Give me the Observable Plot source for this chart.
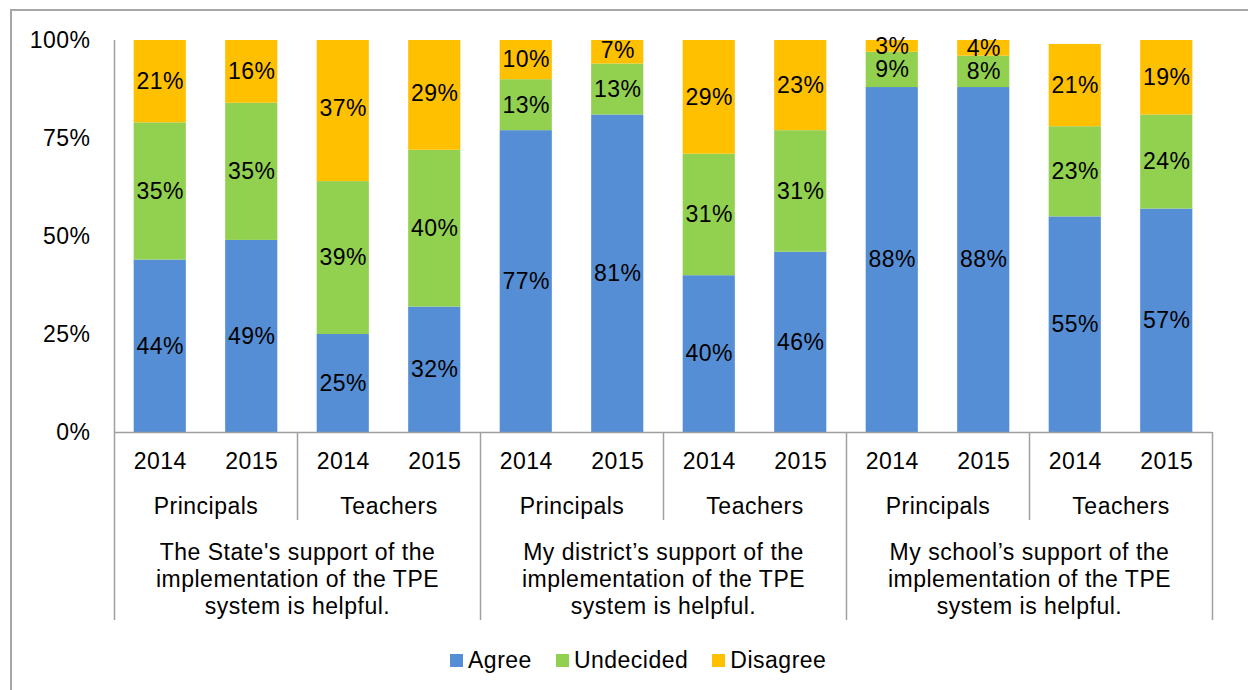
<!DOCTYPE html>
<html>
<head>
<meta charset="utf-8">
<script src="https://cdn.jsdelivr.net/npm/d3@7"></script>
<script src="https://cdn.jsdelivr.net/npm/@observablehq/plot@0.6"></script>
<style>
  html, body { margin: 0; padding: 0; background: #fff; }
  #wrap { position: relative; width: 1248px; height: 690px; overflow: hidden; font-family: "Liberation Sans", Arial, sans-serif; }
  #frame { position: absolute; left: 10px; top: 9px; width: 1400px; height: 900px; border-left: 2px solid #a6a6a6; border-top: 2px solid #a6a6a6; }
  #chart { position: absolute; left: 0; top: 0; }
  #legend { position: absolute; left: 450px; top: 644px; letter-spacing: 0.5px; }
  .lg-swatch { margin-right: 24px !important; }
  .lg-swatch > svg { margin-right: 5px !important; }
</style>
</head>
<body>
<div id="wrap">
  <div id="frame"></div>
  <div id="chart"></div>
  <div id="legend"></div>
</div>
<script>
const questions = [
  "The State's support of the\nimplementation of the TPE\nsystem is helpful.",
  "My district\u2019s support of the\nimplementation of the TPE\nsystem is helpful.",
  "My school\u2019s support of the\nimplementation of the TPE\nsystem is helpful."
];
const roles = ["Principals", "Teachers"];
const years = ["2014", "2015"];
const responses = ["Agree", "Undecided", "Disagree"];
const colors = ["#558ed5", "#92d050", "#ffc000"];

// order: question -> role -> year
const agree     = [44, 49, 25, 32, 77, 81, 40, 46, 88, 88, 55, 57];
const undecided = [35, 35, 39, 40, 13, 13, 31, 31,  9,  8, 23, 24];
const disagree  = [21, 16, 37, 29, 10,  7, 29, 23,  3,  4, 21, 19];

// build table
const cols = [];
questions.forEach((q, qi) => roles.forEach((r, ri) => years.forEach((y, yi) => {
  cols.push({key: `${qi}-${ri}-${yi}`, q: qi, role: r, year: y, ri, yi});
})));
const keys = cols.map(d => d.key);
const series = [agree, undecided, disagree];
const rows = [];
cols.forEach((c, i) => responses.forEach((resp, k) => {
  rows.push({key: c.key, response: resp, value: series[k][i]});
}));

const W = 1248, H = 630;
const mL = 114, mR = 36, mT = 40, mB = 198;
const step = (W - mL - mR) / keys.length;
const axisColor = "#a0a0a0";
const FS = 23;

const roleCols = cols.filter(c => c.yi === 0);            // first col of each role group
const qCols = cols.filter(c => c.ri === 0 && c.yi === 0);   // first col of each question group
const qMid = cols.filter(c => c.ri === 0 && c.yi === 1);    // col left of question midpoint

const chart = Plot.plot({
  width: W,
  height: H,
  marginLeft: mL,
  marginRight: mR,
  marginTop: mT,
  marginBottom: mB,
  style: {fontFamily: "'Liberation Sans', Arial, sans-serif", fontSize: FS + "px", color: "#000", background: "transparent", overflow: "visible", letterSpacing: "0.5px"},
  x: {domain: keys, paddingInner: 0.43, paddingOuter: 0.215, round: false, axis: null},
  y: {domain: [0, 100], axis: null},
  color: {domain: responses, range: colors},
  marks: [
    Plot.barY(rows, Plot.stackY({x: "key", y: "value", z: "response", fill: "response", order: responses, clip: true})),
    Plot.text(rows, Plot.stackY({x: "key", y: "value", z: "response", order: responses, text: d => d.value + "%", fill: "#000", fontSize: FS})),
    Plot.axisY({ticks: [0, 25, 50, 75, 100], tickFormat: d => d + "%", tickSize: 0, tickPadding: 24, fontSize: FS, label: null, fill: "#000"}),
    // baseline
    Plot.ruleY([0], {stroke: axisColor, strokeWidth: 1.5}),
    // left axis line extending to bottom of category area
    Plot.ruleX([keys[0]], {y1: () => 100, y2: () => 0, dx: -step / 2, insetBottom: -188, stroke: axisColor, strokeWidth: 1.5}),
    // question separators
    Plot.ruleX(qCols.slice(1), {x: "key", y1: () => 0, y2: () => 0, dx: -step / 2, insetBottom: -188, stroke: axisColor, strokeWidth: 1.5}),
    Plot.ruleX([keys[keys.length - 1]], {y1: () => 0, y2: () => 0, dx: step / 2, insetBottom: -188, stroke: axisColor, strokeWidth: 1.5}),
    // role separators
    Plot.ruleX(roleCols.filter(c => c.ri === 1), {x: "key", y1: () => 0, y2: () => 0, dx: -step / 2, insetBottom: -88, stroke: axisColor, strokeWidth: 1.5}),
    // year labels
    Plot.text(cols, {x: "key", text: "year", frameAnchor: "bottom", dy: 29, lineAnchor: "middle", fontSize: FS, fill: "#000"}),
    // role labels
    Plot.text(roleCols, {x: "key", text: "role", frameAnchor: "bottom", dx: step / 2, dy: 74, lineAnchor: "middle", fontSize: FS, fill: "#000"}),
    // question labels
    Plot.text(qMid, {x: "key", text: d => questions[d.q], frameAnchor: "bottom", dx: step / 2, dy: 146, lineAnchor: "middle", lineHeight: 1.17, fontSize: FS, fill: "#000"})
  ]
});
document.getElementById("chart").appendChild(chart);

const legend = Plot.legend({
  color: {domain: responses, range: colors},
  swatchSize: 13,
  className: "lg",
  style: {fontFamily: "'Liberation Sans', Arial, sans-serif", fontSize: FS + "px", color: "#000"}
});
document.getElementById("legend").appendChild(legend);
</script>
</body>
</html>
